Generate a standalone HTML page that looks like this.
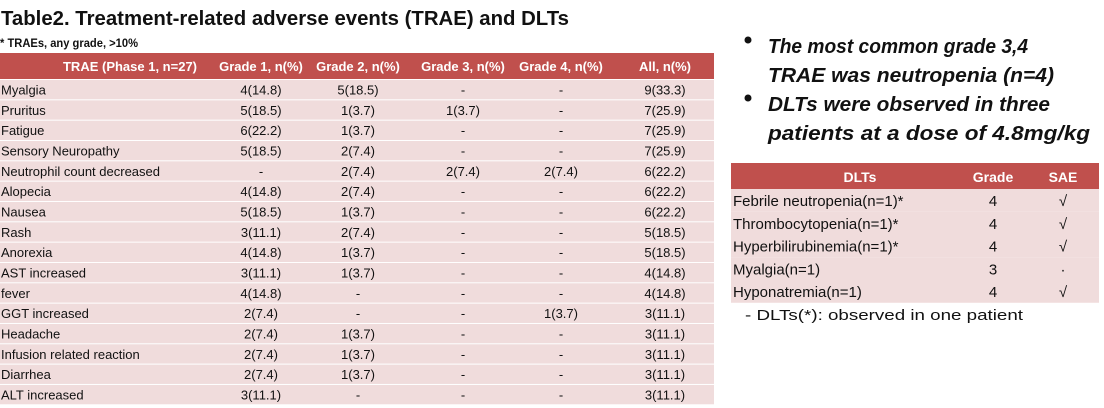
<!DOCTYPE html>
<html><head><meta charset="utf-8"><style>
html,body{margin:0;padding:0;background:#fff;width:1104px;height:408px;overflow:hidden}
svg{display:block;font-family:"Liberation Sans",sans-serif}
</style></head><body>
<svg width="1104" height="408">
<text x="1" y="25" font-size="20" font-weight="bold" fill="#111" textLength="568" lengthAdjust="spacingAndGlyphs">Table2. Treatment-related adverse events (TRAE) and DLTs</text>
<text x="0" y="47" font-size="12" font-weight="bold" fill="#111" textLength="138" lengthAdjust="spacingAndGlyphs">* TRAEs, any grade, &gt;10%</text>
<g id="lt"></g>
<g id="rt"></g>
<g font-size="20" font-weight="bold" font-style="italic" fill="#111">
<circle cx="748" cy="40" r="3.5" fill="#111"/>
<text x="768" y="53" textLength="260" lengthAdjust="spacingAndGlyphs">The most common grade 3,4</text>
<text x="768" y="82" textLength="286" lengthAdjust="spacingAndGlyphs">TRAE was neutropenia (n=4)</text>
<circle cx="748" cy="98" r="3.5" fill="#111"/>
<text x="768" y="111" textLength="282" lengthAdjust="spacingAndGlyphs">DLTs were observed in three</text>
<text x="768" y="140" textLength="322" lengthAdjust="spacingAndGlyphs">patients at a dose of 4.8mg/kg</text>
</g>
<text x="745" y="320" font-size="15" fill="#111" textLength="278" lengthAdjust="spacingAndGlyphs">- DLTs(*): observed in one patient</text>
</svg>
<script>
const NS="http://www.w3.org/2000/svg";
const headers=["TRAE (Phase 1, n=27)","Grade 1, n(%)","Grade 2, n(%)","Grade 3, n(%)","Grade 4, n(%)","All, n(%)"];
const events=["Myalgia","Pruritus","Fatigue","Sensory Neuropathy","Neutrophil count decreased","Alopecia","Nausea","Rash","Anorexia","AST increased","fever","GGT increased","Headache","Infusion related reaction","Diarrhea","ALT increased"];
const g1=["4(14.8)","5(18.5)","6(22.2)","5(18.5)","-","4(14.8)","5(18.5)","3(11.1)","4(14.8)","3(11.1)","4(14.8)","2(7.4)","2(7.4)","2(7.4)","2(7.4)","3(11.1)"];
const g2=["5(18.5)","1(3.7)","1(3.7)","2(7.4)","2(7.4)","2(7.4)","1(3.7)","2(7.4)","1(3.7)","1(3.7)","-","-","1(3.7)","1(3.7)","1(3.7)","-"];
const g3=["-","1(3.7)","-","-","2(7.4)","-","-","-","-","-","-","-","-","-","-","-"];
const g4=["-","-","-","-","2(7.4)","-","-","-","-","-","-","1(3.7)","-","-","-","-"];
const all=["9(33.3)","7(25.9)","7(25.9)","7(25.9)","6(22.2)","6(22.2)","6(22.2)","5(18.5)","5(18.5)","4(14.8)","4(14.8)","3(11.1)","3(11.1)","3(11.1)","3(11.1)","3(11.1)"];
const dltHeaders=["DLTs","Grade","SAE"];
const dlts=["Febrile neutropenia(n=1)*","Thrombocytopenia(n=1)*","Hyperbilirubinemia(n=1)*","Myalgia(n=1)","Hyponatremia(n=1)"];
const dltGrade=["4","4","4","3","4"];
const dltSae=["√","√","√","·","√"];
function el(p,t,a,txt){const e=document.createElementNS(NS,t);for(const k in a)e.setAttribute(k,a[k]);if(txt!==undefined)e.textContent=txt;p.appendChild(e);return e;}
// left table
const lt=document.getElementById('lt');
const lx=0,lw=714,hy=53,hh=26,rh=20.33;
const hb=el(lt,'rect',{x:lx,y:hy,width:lw,height:hh,fill:'#c0504d'});


const cx=[130,261,358,463,561,665];
headers.forEach((h,i)=>{const t=el(lt,'text',{x:cx[i],y:hy+18,'font-size':13,'font-weight':'bold',fill:'#fff','text-anchor':'middle'},h);

});
events.forEach((ev,r)=>{const y=hy+hh+1+r*rh;
const bg=el(lt,'rect',{x:lx,y:y,width:lw,height:rh-1,fill:'#f0dcdc'});


const vals=[ev,g1[r],g2[r],g3[r],g4[r],all[r]];
vals.forEach((v,i)=>{const t=el(lt,'text',{x:i?cx[i]:1,y:y+14.5,'font-size':13,fill:'#111','text-anchor':i?'middle':'start'},v);

});});
// right table
const rt=document.getElementById('rt');
const rx=731,rw=368,ry=163,rhh=26,rrh=22.75;
const rhb=el(rt,'rect',{x:rx,y:ry,width:rw,height:rhh,fill:'#c0504d'});


const rcx=[860,993,1063];
dltHeaders.forEach((h,i)=>{const t=el(rt,'text',{x:rcx[i],y:ry+19,'font-size':14,'font-weight':'bold',fill:'#fff','text-anchor':'middle'},h);

});
dlts.forEach((d,r)=>{const y=ry+rhh+r*rrh;
const bg=el(rt,'rect',{x:rx,y:y,width:rw,height:rrh,fill:'#f0dcdc'});


const vals=[d,dltGrade[r],dltSae[r]];
vals.forEach((v,i)=>{const t=el(rt,'text',{x:i?rcx[i]:rx+2,y:y+17,'font-size':15,fill:'#111','text-anchor':i?'middle':'start'},v);

});});
</script>
</body></html>
